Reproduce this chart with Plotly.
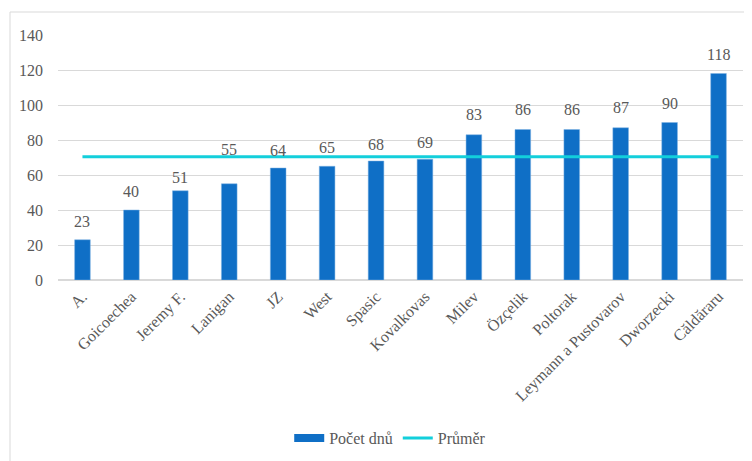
import plotly.graph_objects as go

categories = ["A.", "Goicoechea", "Jeremy F.", "Lanigan", "JZ", "West", "Spasic",
              "Kovalkovas", "Milev", "Özçelik", "Poltorak", "Leymann a Pustovarov",
              "Dworzecki", "Căldăraru"]
days = [23, 40, 51, 55, 64, 65, 68, 69, 83, 86, 86, 87, 90, 118]
average = [70.4, 70.4, 70.4, 70.4, 70.4, 70.4, 70.4, 70.4, 70.4, 70.4, 70.4, 70.4, 70.4, 70.4]
y_ticks = [0, 20, 40, 60, 80, 100, 120, 140]

# style: vertical offset (px) of each data label above its bar
label_shift = [18, 19, 13, 34, 18, 19, 17, 17, 20, 20, 20, 20, 19, 19]

FONT = "Liberation Serif, Times New Roman, serif"
GREY = "#595959"
BAR = "#0f6fc6"
LINE = "#13cfdb"

fig = go.Figure()
fig.add_trace(go.Bar(
    x=categories, y=days, name="Počet dnů", showlegend=False,
    marker=dict(color=BAR, line=dict(color="#7fb2e3", width=0.5)),
    width=0.32,
))
# legend entry drawn as a wide flat rectangle like the original
fig.add_trace(go.Scatter(
    x=[None], y=[None], name="Počet dnů", mode="lines",
    line=dict(color=BAR, width=8), legendrank=1,
))
fig.add_trace(go.Scatter(
    x=categories, y=average, name="Průměr", mode="lines",
    line=dict(color=LINE, width=3), legendrank=2,
))

for c, v, s in zip(categories, days, label_shift):
    fig.add_annotation(x=c, y=v, text=str(v), showarrow=False, yshift=s,
                       font=dict(family=FONT, size=16, color=GREY))

# page body has an 8px margin, compensate in the figure margins
W, H = 752, 461
ml, mr, mt, mb = 50, 17, 27, 189
pw = W - ml - mr
ph = H - mt - mb
fig.add_shape(type="rect", xref="paper", yref="paper",
              x0=(2 - ml) / pw, x1=1.2, y0=-1.0, y1=1 + (mt - 4) / ph,
              line=dict(color="#d9d9d9", width=1), fillcolor="rgba(0,0,0,0)", layer="below")

fig.update_layout(
    width=W, height=H,
    margin=dict(l=ml, r=mr, t=mt, b=mb, autoexpand=False),
    paper_bgcolor="white", plot_bgcolor="white",
    font=dict(family=FONT, size=16, color=GREY),
    showlegend=True,
    legend=dict(orientation="h", x=0.485, xanchor="center", y=-0.645, yanchor="middle",
                font=dict(family=FONT, size=16, color=GREY), itemwidth=30,
                tracegroupgap=0),
)
fig.update_xaxes(tickangle=-45, showgrid=False, showline=True, linecolor="#d9d9d9",
                 linewidth=1, ticks="", automargin=False,
                 tickfont=dict(family=FONT, size=16, color=GREY))
fig.update_yaxes(range=[0, 140], tickvals=y_ticks, showgrid=True, gridcolor="#d9d9d9",
                 gridwidth=1, zeroline=True, zerolinecolor="#d9d9d9", showline=False,
                 ticks="", ticklabelstandoff=14, automargin=False,
                 tickfont=dict(family=FONT, size=16, color=GREY))

fig.write_html("out.html")
